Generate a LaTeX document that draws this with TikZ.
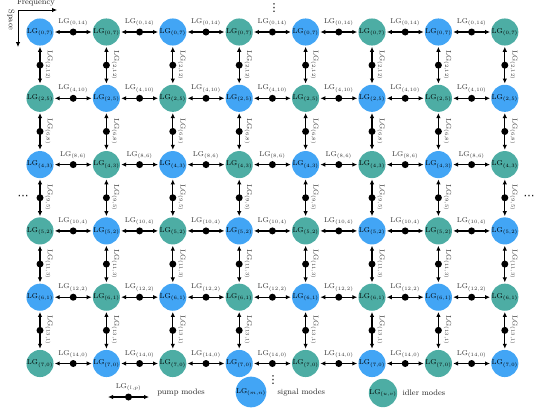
\documentclass[tikz,border=0pt]{standalone}
\usepackage{fontspec}
\usetikzlibrary{arrows.meta,positioning}

\newfontfamily\dotsfont{DejaVu Sans}
\definecolor{sigc}{RGB}{66,165,245}
\definecolor{idlc}{RGB}{77,173,164}

\begin{document}
\begin{tikzpicture}[
  x=1pt,y=1pt,
  >={Latex[length=5pt,width=4.5pt]},
  mode/.style={circle,fill=#1,minimum size=22pt,inner sep=0pt,
    font=\fontsize{7}{8}\selectfont},
  mode0/.style={mode=sigc},
  mode1/.style={mode=idlc},
  pump/.style={<->,line width=1.3pt,shorten <=1pt,shorten >=1pt},
  pdot/.style={circle,fill=black,minimum size=7pt,inner sep=0pt},
  plab/.style={font=\fontsize{7}{8}\selectfont,text=black!80,inner sep=0.5pt},
  txt/.style={font=\fontsize{8}{9}\selectfont,text=black!85},
  more/.style={font=\dotsfont\fontsize{11}{11}\selectfont,inner sep=0pt},
  axis/.style={->,line width=0.8pt}]

  \useasboundingbox (0,0) rectangle (548,-410);

  % ================= modes and horizontal pumps =================
  \foreach \r/\l/\p/\hl/\hp in {0/0/7/0/14, 1/2/5/4/10, 2/4/3/8/6,
                                 3/5/2/10/4, 4/6/1/12/2, 5/7/0/14/0} {
    \foreach \c [evaluate=\c as \k using {int(mod(\r+\c,2))}] in {0,...,7}
      \node[mode\k] (m-\r-\c) at (40+66.4*\c,-32-66.3*\r) {LG$_{(\l,\p)}$};
    \foreach \c [evaluate=\c as \n using {int(\c+1)}] in {0,...,6} {
      \draw[pump] (m-\r-\c) -- node[pdot] (h-\r-\c) {} (m-\r-\n);
      \node[plab,above=1pt of h-\r-\c] {LG$_{(\hl,\hp)}$};
    }
  }

  % ================= vertical pumps =================
  \foreach \r/\vl/\vp in {0/2/12, 1/6/8, 2/9/5, 3/11/3, 4/13/1} {
    \foreach \c [evaluate=\r as \n using {int(\r+1)}] in {0,...,7} {
      \draw[pump] (m-\r-\c) -- node[pdot] (v-\r-\c) {} (m-\n-\c);
      \node[plab,rotate=-90,anchor=south] at ([xshift=0.5pt]v-\r-\c.east)
        {LG$_{(\vl,\vp)}$};
    }
  }

  % continuation dots
  \node[more] (dtop) at (274,-8) {⋮};
  \node[more] (dbot) at (273,-380) {⋮};
  \node[more] (dleft) at (23,-197) {⋯};
  \node[more] (dright) at (529,-197) {⋯};

  % axes
  \coordinate (orig) at (18,-10);
  \coordinate (freq) at (57,-10);
  \coordinate (space) at (18,-47);
  \draw[axis] (orig) -- (freq);
  \draw[axis] (orig) -- (space);
  \node[txt] (freqlab) at (36,-3) {Frequency};
  \node[txt,rotate=-90] (spacelab) at (11,-20) {Space};

  % ================= legend =================
  \coordinate (legA) at (107,-397);
  \coordinate (legB) at (150,-397);
  \draw[pump] (legA) -- node[pdot] (legdot) {} (legB);
  \node[plab,above=1pt of legdot] {LG$_{(l,p)}$};
  \node[txt] (pumplab) at (181,-392) {pump modes};
  \node[mode=sigc] (legsig) at (251,-392) {LG$_{(m,n)}$};
  \node[txt,anchor=west] (siglab) at (274,-393) {signal modes};
  \node[mode=idlc] (legidl) at (383,-393) {LG$_{(u,v)}$};
  \node[txt,anchor=west] (idllab) at (399,-393) {idler modes};
\end{tikzpicture}
\end{document}
